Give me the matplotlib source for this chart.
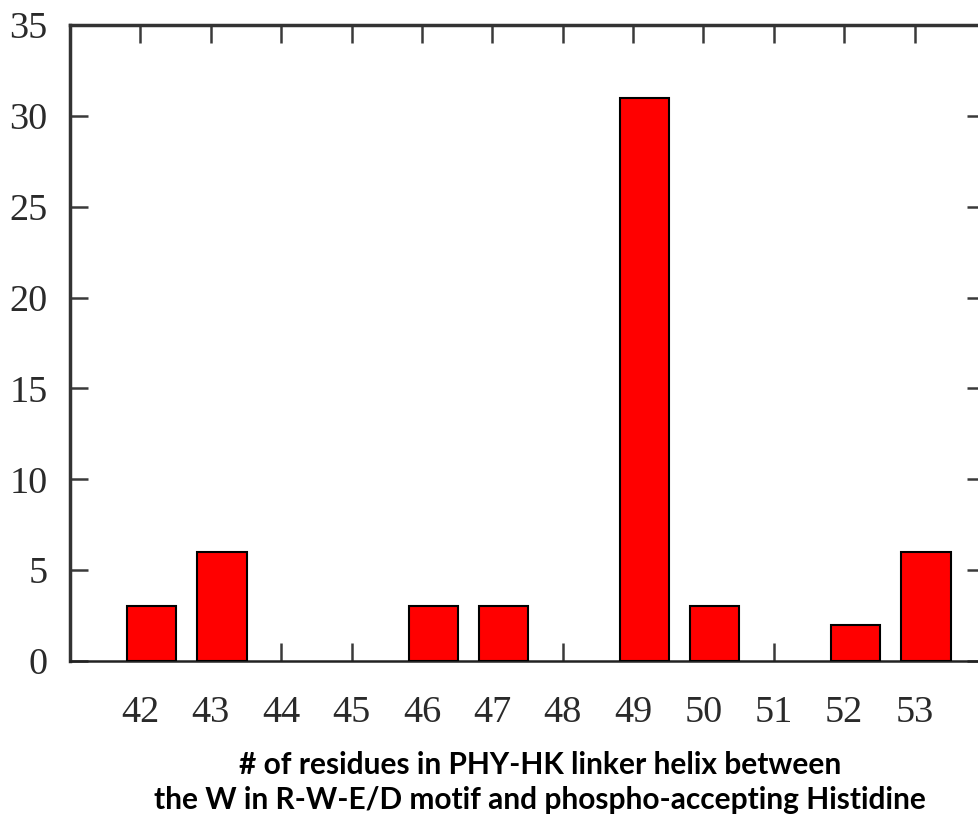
import matplotlib
matplotlib.use("Agg")
import matplotlib.pyplot as plt
import numpy as np

categories = ["42", "43", "44", "45", "46", "47", "48", "49", "50", "51", "52", "53"]
counts = [3, 6, 0, 0, 3, 3, 0, 31, 3, 0, 2, 6]
yticks = [0, 5, 10, 15, 20, 25, 30, 35]
xlabel_lines = ["# of residues in PHY-HK linker helix between",
                "the W in R-W-E/D motif and phospho-accepting Histidine"]

W, H = 979, 822
fig = plt.figure(figsize=(W / 100, H / 100), dpi=100)
ax = fig.add_axes([70 / W, 1 - 661 / H, (985 - 70) / W, (661 - 25) / H])

x = np.arange(len(categories))
bar_offset = 0.16
lws = [1.5 if c > 0 else 0 for c in counts]
ax.bar(x + bar_offset, counts, width=0.7, color="#ff0000", edgecolor="black",
       linewidth=lws, zorder=3)

ax.set_xlim(-1, 12)
ax.set_ylim(0, 35)
ax.set_xticks(x)
ax.set_xticklabels(categories)
ax.set_yticks(yticks)
ax.set_axisbelow(True)

for lab in ax.get_xticklabels() + ax.get_yticklabels():
    lab.set_fontfamily("Liberation Serif")
    lab.set_fontsize(27.5)
    lab.set_color("#2a2a2a")

ax.tick_params(axis="x", which="major", direction="in", length=13, width=1.8,
               color="#3a3a3a", top=True, bottom=True, pad=25)
ax.tick_params(axis="y", which="major", direction="in", length=13, width=1.8,
               color="#3a3a3a", left=True, right=True, pad=16)

for side in ["left", "top", "right"]:
    ax.spines[side].set_linewidth(2.5)
    ax.spines[side].set_color("#333333")
ax.spines["bottom"].set_linewidth(1.8)
ax.spines["bottom"].set_color("#222222")

fig.text(540 / W, 1 - 765 / H, xlabel_lines[0], ha="center", va="center",
         fontfamily="Lato", fontweight="bold", fontsize=21.5, color="black")
fig.text(540 / W, 1 - 800 / H, xlabel_lines[1], ha="center", va="center",
         fontfamily="Lato", fontweight="bold", fontsize=21.5, color="black")

fig.savefig("out.png", dpi=100)
